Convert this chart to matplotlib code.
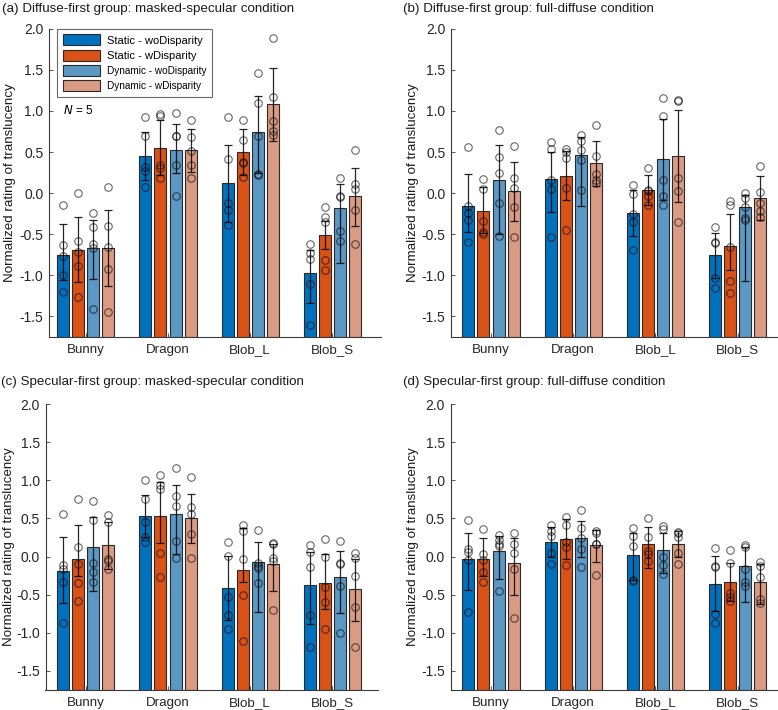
import matplotlib
matplotlib.use('Agg')
import matplotlib.pyplot as plt
import numpy as np

plt.rcParams['font.family'] = ['Liberation Sans', 'DejaVu Sans']

categories = ['Bunny', 'Dragon', 'Blob_L', 'Blob_S']
series_names = ['Static - woDisparity', 'Static - wDisparity',
                'Dynamic - woDisparity', 'Dynamic - wDisparity']
series_colors = ['#0072BD', '#D95319', '#5B98C3', '#D99B83']
yticks = [-1.5, -1.0, -0.5, 0.0, 0.5, 1.0, 1.5, 2.0]
ytick_labels = ['-1.5', '-1.0', '-0.5', '0.0', '0.5', '1.0', '1.5', '2.0']
titles = ['(a) Diffuse-first group: masked-specular condition',
          '(b) Diffuse-first group: full-diffuse condition',
          '(c) Specular-first group: masked-specular condition',
          '(d) Specular-first group: full-diffuse condition']
ylabel = 'Normalized rating of translucency'

# ---- Panel (a) : [category][series]
a_mean = [[-0.75, -0.69, -0.67, -0.67],
          [0.455, 0.545, 0.53, 0.52],
          [0.12, 0.50, 0.74, 1.08],
          [-0.975, -0.51, -0.185, -0.03]]
a_err_hi = [[0.375, 0.40, 0.34, 0.46],
            [0.29, 0.34, 0.31, 0.255],
            [0.47, 0.28, 0.44, 0.44],
            [0.28, 0.17, 0.30, 0.34]]
a_err_lo = [[0.31, 0.39, 0.38, 0.46],
            [0.30, 0.33, 0.29, 0.26],
            [0.47, 0.28, 0.50, 0.44],
            [0.36, 0.17, 0.67, 0.37]]
a_pts = [[[-0.15, -0.63, -0.76, -1.0, -1.2], [0.0, -0.58, -0.72, -0.89, -1.26],
          [-0.24, -0.41, -0.62, -0.67, -1.41], [0.08, -0.40, -0.65, -0.92, -1.45]],
         [[0.92, 0.70, 0.32, 0.27, 0.08], [0.96, 0.94, 0.34, 0.31, 0.18],
          [0.97, 0.70, 0.69, 0.34, -0.03], [0.89, 0.68, 0.51, 0.34, 0.18]],
         [[0.92, 0.42, -0.12, -0.21, -0.39], [0.885, 0.65, 0.38, 0.37, 0.20],
          [1.46, 1.10, 0.69, 0.23, 0.22], [1.89, 1.165, 0.88, 0.75, 0.71]],
         [[-0.62, -0.725, -0.80, -1.106, -1.61], [-0.165, -0.295, -0.35, -0.81, -0.93],
          [0.19, -0.03, -0.05, -0.46, -0.58], [0.53, 0.11, 0.05, -0.21, -0.62]]]

# ---- Panel (b)
b_mean = [[-0.157, -0.218, 0.163, 0.025],
          [0.167, 0.212, 0.459, 0.362],
          [-0.238, 0.034, 0.419, 0.447],
          [-0.757, -0.64, -0.173, -0.056]]
b_err_hi = [[0.39, 0.29, 0.42, 0.35],
            [0.33, 0.30, 0.22, 0.27],
            [0.27, 0.19, 0.48, 0.56],
            [0.27, 0.39, 0.15, 0.27]]
b_err_lo = [[0.32, 0.27, 0.66, 0.36],
            [0.40, 0.30, 0.62, 0.27],
            [0.28, 0.18, 0.50, 0.56],
            [0.27, 0.29, 0.89, 0.27]]
b_pts = [[[0.565, -0.16, -0.24, -0.33, -0.595], [0.168, 0.05, -0.335, -0.47, -0.50],
          [0.768, 0.435, 0.245, -0.116, -0.52], [0.577, 0.188, 0.066, -0.165, -0.53]],
         [[0.622, 0.536, 0.16, 0.046, -0.538], [0.532, 0.50, 0.423, 0.066, -0.445],
          [0.71, 0.64, 0.52, 0.40, 0.04], [0.824, 0.447, 0.228, 0.16, 0.12]],
         [[0.10, -0.007, -0.258, -0.347, -0.692], [0.30, 0.04, 0.02, -0.04, -0.15],
          [1.153, 0.942, 0.159, -0.031, -0.145], [1.13, 1.12, 0.19, 0.03, -0.35]],
         [[-0.41, -0.59, -0.61, -1.03, -1.16], [-0.10, -0.15, -0.65, -1.07, -1.22],
          [0.005, -0.056, -0.165, -0.30, -0.327], [0.334, 0.017, -0.116, -0.213, -0.295]]]

# ---- Panel (c)
c_mean = [[-0.189, -0.03, 0.122, 0.148],
          [0.532, 0.532, 0.562, 0.506],
          [-0.407, -0.18, -0.075, -0.093],
          [-0.376, -0.346, -0.272, -0.42]]
c_err_hi = [[0.45, 0.44, 0.39, 0.31],
            [0.28, 0.45, 0.37, 0.31],
            [0.415, 0.55, 0.26, 0.26],
            [0.44, 0.38, 0.35, 0.385]]
c_err_lo = [[0.42, 0.22, 0.57, 0.31],
            [0.275, 0.35, 0.53, 0.33],
            [0.42, 0.15, 0.655, 0.36],
            [0.51, 0.345, 0.47, 0.43]]
c_pts = [[[0.56, -0.11, -0.17, -0.34, -0.87], [0.755, 0.126, -0.093, -0.346, -0.586],
          [0.733, 0.475, -0.08, -0.202, -0.33], [0.55, 0.449, -0.036, -0.062, -0.158]],
         [[1.004, 0.76, 0.454, 0.257, 0.187], [1.07, 0.938, 0.886, 0.043, -0.263],
          [1.157, 0.80, 0.667, 0.20, -0.014], [1.048, 0.646, 0.558, 0.296, -0.014]],
         [[0.196, 0.008, -0.525, -0.765, -0.953], [0.414, 0.336, -0.036, -0.499, -1.11],
          [0.35, -0.09, -0.12, -0.15, -0.35], [0.174, 0.16, -0.023, -0.058, -0.70]],
         [[0.152, 0.06, -0.14, -0.765, -1.19], [0.23, 0.0, -0.394, -0.59, -0.953],
          [0.20, -0.08, -0.10, -0.38, -1.0], [0.043, -0.014, -0.259, -0.656, -1.18]]]

# ---- Panel (d)
d_mean = [[-0.031, -0.036, 0.073, -0.088],
          [0.196, 0.226, 0.24, 0.148],
          [0.025, 0.165, 0.082, 0.165],
          [-0.355, -0.333, -0.123, -0.329]]
d_err_hi = [[0.335, 0.275, 0.20, 0.33],
            [0.196, 0.26, 0.23, 0.20],
            [0.28, 0.22, 0.23, 0.17],
            [0.36, 0.25, 0.25, 0.23]]
d_err_lo = [[0.41, 0.22, 0.37, 0.415],
            [0.196, 0.26, 0.25, 0.22],
            [0.33, 0.32, 0.30, 0.17],
            [0.36, 0.25, 0.47, 0.29]]
d_pts = [[[0.484, 0.10, 0.065, -0.044, -0.73], [0.366, 0.038, -0.05, -0.20, -0.333],
          [0.28, 0.22, 0.17, 0.14, -0.45], [0.305, 0.165, 0.043, -0.162, -0.81]],
         [[0.414, 0.336, 0.27, 0.052, -0.097], [0.515, 0.414, 0.196, 0.13, -0.106],
          [0.606, 0.37, 0.248, 0.095, -0.132], [0.336, 0.31, 0.17, 0.16, -0.24]],
         [[0.37, 0.27, 0.14, -0.307, -0.32], [0.506, 0.253, 0.078, 0.034, -0.053],
          [0.40, 0.366, 0.0, -0.11, -0.228], [0.327, 0.305, 0.253, 0.043, -0.101]],
         [[0.117, -0.12, -0.14, -0.75, -0.875], [0.087, -0.088, -0.473, -0.525, -0.582],
          [0.152, 0.121, -0.167, -0.328, -0.381], [-0.075, -0.119, -0.263, -0.56, -0.604]]]

panels = [(a_mean, a_err_lo, a_err_hi, a_pts),
          (b_mean, b_err_lo, b_err_hi, b_pts),
          (c_mean, c_err_lo, c_err_hi, c_pts),
          (d_mean, d_err_lo, d_err_hi, d_pts)]

W, H = 778, 710
fig = plt.figure(figsize=(W / 100, H / 100), dpi=100)

# axes rectangles in pixels: left, top, right, bottom
rects = [(49, 28.7, 381.5, 337), (451, 28.7, 778, 337),
         (45.5, 404, 378, 690), (450.5, 404, 778, 690)]
ylo, yhi = -1.75, 2.0
px_per_unit = 82.2
centers_px = [85.8, 491.0, 85.8, 491.0]
bar_w = 0.146
step = 0.1825
axis_col = '#3a3a3a'
label_pads = [2.5, 1.5, 1.0, 1.5]

for i, (mean, elo, ehi, pts) in enumerate(panels):
    l, t, r, b = rects[i]
    ax = fig.add_axes([l / W, 1 - b / H, (r - l) / W, (b - t) / H])
    xl = 1 - (centers_px[i] - l) / px_per_unit
    xr = xl + (r - l) / px_per_unit
    ax.set_xlim(xl, xr)
    ax.set_ylim(ylo, yhi)
    x = np.arange(1, len(categories) + 1)
    for s in range(4):
        xs = x + (s - 1.5) * step
        m = np.array([mean[c][s] for c in range(4)])
        lo = [elo[c][s] for c in range(4)]
        hi = [ehi[c][s] for c in range(4)]
        ax.bar(xs, m - ylo, bar_w, bottom=ylo, color=series_colors[s],
               edgecolor='#2a2a2a', linewidth=0.8, zorder=2,
               label=series_names[s])
        ax.errorbar(xs, m, yerr=[lo, hi], fmt='none', ecolor=(0, 0, 0, 0.85),
                    elinewidth=0.9, capsize=2.6, capthick=0.9, zorder=3)
        for c in range(4):
            ax.plot([xs[c]] * len(pts[c][s]), pts[c][s], 'o', mfc='none',
                    mec=(0, 0, 0, 0.6), ms=5.4, mew=0.8, zorder=4)
    ax.set_xticks(x)
    ax.set_xticklabels(categories, fontsize=9.6)
    ax.set_yticks(yticks)
    ax.set_yticklabels(ytick_labels, fontsize=10)
    ax.tick_params(direction='in', length=3, width=0.6, colors='#262626',
                   color=axis_col, pad=4)
    ax.tick_params(axis='x', pad=5)
    for sp in ['top', 'right']:
        ax.spines[sp].set_visible(False)
    for sp in ['left', 'bottom']:
        ax.spines[sp].set_color(axis_col)
        ax.spines[sp].set_linewidth(0.8)
    ax.set_ylabel(ylabel, fontsize=9.6, color='#1a1a1a', labelpad=label_pads[i])
    tx = [2, 403, 1, 403][i]
    ty = [9, 9, 382, 382][i]
    fig.text(tx / W, 1 - ty / H, titles[i], fontsize=9.6, color='#1a1a1a',
             ha='left', va='center')
    if i == 0:
        leg = ax.legend(loc='upper left', bbox_to_anchor=((57.3 - l) / (r - l), 1.0),
                        fontsize=8, frameon=True, fancybox=False,
                        edgecolor='#444444', handlelength=3.3, handleheight=1.15,
                        borderpad=0.5, labelspacing=0.36, handletextpad=0.7,
                        borderaxespad=0.0)
        leg.get_frame().set_linewidth(0.8)
        for k, txt in enumerate(leg.get_texts()):
            if k >= 2:
                txt.set_fontsize(7.2)
        ax.text((63 - l) / (r - l), 1 - (110 - t) / (b - t), r'$N$ = 5',
                transform=ax.transAxes, fontsize=8.5, ha='left', va='center')

fig.savefig('out.png', dpi=100)
